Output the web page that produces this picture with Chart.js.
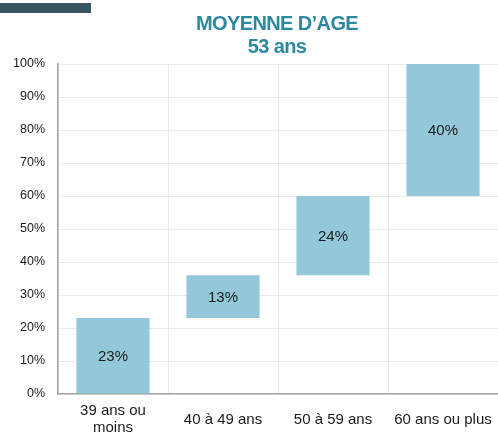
<!DOCTYPE html>
<html>
<head>
<meta charset="utf-8">
<script src="https://cdn.jsdelivr.net/npm/chart.js@4"></script>
<style>
	html, body { margin: 0; padding: 0; background: #fff; }
	#wrap { width: 498px; height: 432px; position: relative; }
</style>
</head>
<body>
<div id="wrap"><canvas id="age-chart"></canvas></div>
<script>
(function () {
	'use strict';

	// Data.
	var CATEGORIES = [['39 ans ou', 'moins'], '40 à 49 ans', '50 à 59 ans', '60 ans ou plus'];
	var BAR_BASE   = [0, 23, 36, 60];
	var SHARES     = [23, 13, 24, 40];
	var Y_TICKS    = [0, 10, 20, 30, 40, 50, 60, 70, 80, 90, 100];
	var TITLE      = ['MOYENNE D\u2019AGE', '53 ans'];

	var FONT = "'Liberation Sans', Arial, sans-serif";
	var COLORS = {
		bar:    '#92c8d9',
		title:  '#2d89a0',
		band:   '#3a5564',
		grid:   '#ebebeb',
		axis:   '#a3a3a3',
		text:   '#1a1a1a',
	};

	var ranges = SHARES.map(function (v, i) {
		return [BAR_BASE[i], BAR_BASE[i] + v];
	});

	var decorPlugin = {
		id: 'decor',
		afterDraw: function (chart) {
			var ctx = chart.ctx;
			ctx.save();

			// Dark band, top left.
			ctx.fillStyle = COLORS.band;
			ctx.fillRect(0, 3, 91, 10);

			// Title, two lines.
			ctx.fillStyle = COLORS.title;
			ctx.textAlign = 'center';
			ctx.textBaseline = 'alphabetic';
			ctx.font = 'bold 20px ' + FONT;
			ctx.letterSpacing = '-0.6px';
			ctx.fillText(TITLE[0], 277, 30);
			ctx.fillText(TITLE[1], 277, 53);
			ctx.letterSpacing = '0px';

			// Value labels in bar centres.
			var meta = chart.getDatasetMeta(0);
			ctx.fillStyle = COLORS.text;
			ctx.font = '15px ' + FONT;
			ctx.textBaseline = 'middle';
			meta.data.forEach(function (bar, i) {
				var mid = (bar.y + bar.base) / 2;
				ctx.fillText(SHARES[i] + '%', bar.x, mid + 1);
			});

			ctx.restore();
		},
	};

	new Chart(document.getElementById('age-chart'), {
		type: 'bar',
		data: {
			labels: CATEGORIES,
			datasets: [{
				data:               ranges,
				backgroundColor:    COLORS.bar,
				borderWidth:        0,
				borderSkipped:      false,
				barPercentage:      0.665,
				categoryPercentage: 1,
			}],
		},
		options: {
			responsive:          true,
			maintainAspectRatio: false,
			animation:           false,
			layout: {
				padding: { top: 64, left: 0, right: 0, bottom: 0 },
			},
			scales: {
				x: {
					grid: {
						color:     COLORS.grid,
						offset:    true,
						drawTicks: false,
					},
					border: { color: COLORS.axis, width: 1.5 },
					ticks: {
						color:      COLORS.text,
						font:       { family: FONT, size: 15, lineHeight: 1.15 },
						padding:    17,
						crossAlign: 'center',
						maxRotation: 0,
					},
					afterFit: function (scale) {
						scale.height = 38;
						scale.paddingLeft = 0;
						scale.paddingRight = 0;
					},
				},
				y: {
					min: 0,
					max: 100,
					afterBuildTicks: function (scale) {
						scale.ticks = Y_TICKS.map(function (v) { return { value: v }; });
					},
					grid: {
						color:     COLORS.grid,
						drawTicks: false,
					},
					border: { color: COLORS.axis, width: 1.5 },
					ticks: {
						color:    COLORS.text,
						font:     { family: FONT, size: 12.5 },
						padding:  13,
						callback: function (value) { return value + '%'; },
					},
					afterFit: function (scale) {
						scale.width = 58;
						scale.paddingTop = 0;
						scale.paddingBottom = 0;
					},
				},
			},
			plugins: {
				legend:  { display: false },
				tooltip: { enabled: false },
			},
		},
		plugins: [decorPlugin],
	});
})();
</script>
</body>
</html>
